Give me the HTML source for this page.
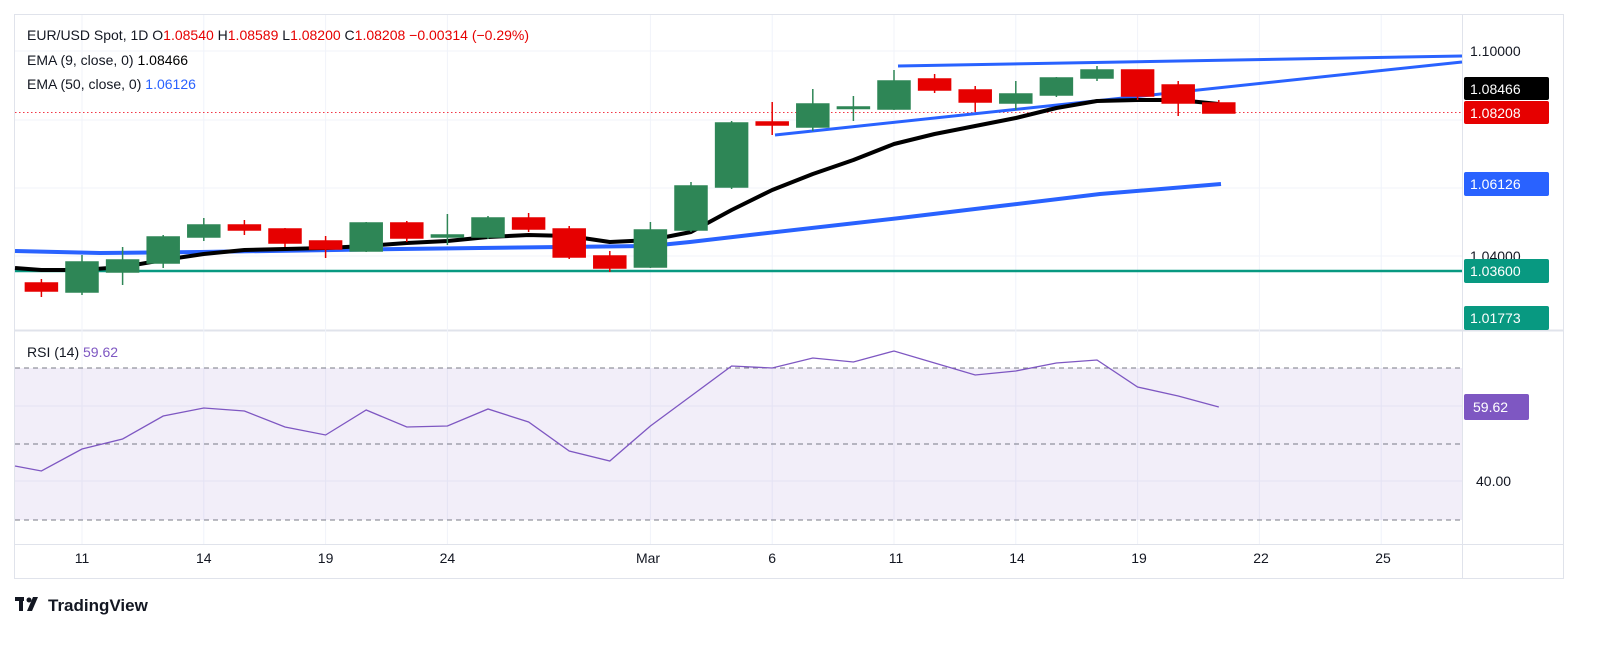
<!DOCTYPE html>
<html><head><meta charset="utf-8"><style>
body{margin:0;background:#fff;width:1602px;height:644px;overflow:hidden;font-family:"Liberation Sans",sans-serif}
svg text{font-family:"Liberation Sans",sans-serif}
</style></head><body>
<svg width="1602" height="644" xmlns="http://www.w3.org/2000/svg">
<rect x="14.5" y="14.5" width="1549" height="564" fill="none" stroke="#e0e3eb"/>
<line x1="15" y1="330.5" x2="1563" y2="330.5" stroke="#e0e3eb" stroke-width="2"/>
<line x1="1462.5" y1="15" x2="1462.5" y2="578" stroke="#e0e3eb"/>
<line x1="15" y1="544.5" x2="1563" y2="544.5" stroke="#e0e3eb"/>
<g stroke="#f0f3fa">
<line x1="82" y1="15" x2="82" y2="544"/><line x1="203.8" y1="15" x2="203.8" y2="544"/><line x1="325.6" y1="15" x2="325.6" y2="544"/><line x1="447.4" y1="15" x2="447.4" y2="544"/><line x1="650.4" y1="15" x2="650.4" y2="544"/><line x1="772.2" y1="15" x2="772.2" y2="544"/><line x1="894" y1="15" x2="894" y2="544"/><line x1="1015.8" y1="15" x2="1015.8" y2="544"/><line x1="1137.6" y1="15" x2="1137.6" y2="544"/><line x1="1259.4" y1="15" x2="1259.4" y2="544"/><line x1="1381.2" y1="15" x2="1381.2" y2="544"/>
<line x1="15" y1="51" x2="1462" y2="51"/><line x1="15" y1="120" x2="1462" y2="120"/><line x1="15" y1="188" x2="1462" y2="188"/><line x1="15" y1="256" x2="1462" y2="256"/>
<line x1="15" y1="406" x2="1462" y2="406"/><line x1="15" y1="481" x2="1462" y2="481"/>
</g>
<rect x="15" y="368" width="1447" height="152" fill="#7e57c2" fill-opacity="0.1"/>
<g stroke="#787b86" stroke-dasharray="5,4" stroke-width="1">
<line x1="15" y1="368" x2="1462" y2="368"/><line x1="15" y1="444" x2="1462" y2="444"/><line x1="15" y1="520" x2="1462" y2="520"/>
</g>
<polyline fill="none" stroke="#7e57c2" stroke-width="1.3" points="15,466 41.4,471 82,449 122.6,439 163.2,416 203.8,408 244.4,411 285,427 325.6,435 366.2,410 406.8,427 447.4,426 488,409 528.6,422 569.2,451 609.8,461 650.4,426 691,396 731.6,366 772.2,368 812.8,358 853.4,362 894,351 934.6,363 975.2,375 1015.8,371 1056.4,363 1097,360 1137.6,387 1178.2,396 1218.8,407"/>
<line x1="15" y1="271" x2="1462" y2="271" stroke="#089981" stroke-width="2.5"/>
<line x1="15" y1="112.5" x2="1462" y2="112.5" stroke="#f23645" stroke-dasharray="1.5,2.5"/>
<polyline fill="none" stroke="#2962ff" stroke-width="4" stroke-linejoin="round" points="15,251 100,253 200,252 400,249 560,247 650,246 690,242 750,235 900,218 1000,206 1100,194 1221,184"/>
<line x1="898" y1="66" x2="1462" y2="56" stroke="#2962ff" stroke-width="3"/>
<line x1="775" y1="135" x2="1462" y2="62" stroke="#2962ff" stroke-width="3"/>
<polyline fill="none" stroke="#000" stroke-width="4" stroke-linejoin="round" points="15,268 41.4,270 82,270 122.6,267 163.2,260 203.8,254 244.4,250 285,249 325.6,248 366.2,246 406.8,243 447.4,241 488,237 528.6,235 569.2,236 609.8,242 650.4,240 691,232 731.6,210 772.2,190 812.8,174 853.4,160 894,144 934.6,134 975.2,126 1015.8,118 1056.4,108 1097,101 1137.6,100 1178.2,100 1218.8,104"/>
<g stroke-width="1.5">
<g stroke="#e60000" fill="#e60000">
<line x1="41.4" y1="279" x2="41.4" y2="297"/><rect x="25.4" y="283" width="32" height="8"/>
<line x1="244.4" y1="220" x2="244.4" y2="235"/><rect x="228.4" y="225" width="32" height="5"/>
<line x1="285" y1="228" x2="285" y2="247"/><rect x="269" y="229" width="32" height="14"/>
<line x1="325.6" y1="236" x2="325.6" y2="258"/><rect x="309.6" y="241" width="32" height="8"/>
<line x1="406.8" y1="221" x2="406.8" y2="242"/><rect x="390.8" y="223" width="32" height="15"/>
<line x1="528.6" y1="213" x2="528.6" y2="232"/><rect x="512.6" y="218" width="32" height="11"/>
<line x1="569.2" y1="226" x2="569.2" y2="259"/><rect x="553.2" y="229" width="32" height="28"/>
<line x1="609.8" y1="251" x2="609.8" y2="272"/><rect x="593.8" y="256" width="32" height="12"/>
<line x1="772.2" y1="102" x2="772.2" y2="135"/><rect x="756.2" y="122" width="32" height="3"/>
<line x1="934.6" y1="74" x2="934.6" y2="93"/><rect x="918.6" y="79" width="32" height="11"/>
<line x1="975.2" y1="86" x2="975.2" y2="112"/><rect x="959.2" y="90" width="32" height="12"/>
<line x1="1137.6" y1="70" x2="1137.6" y2="100"/><rect x="1121.6" y="70" width="32" height="26"/>
<line x1="1178.2" y1="81" x2="1178.2" y2="116"/><rect x="1162.2" y="85" width="32" height="18"/>
<line x1="1218.8" y1="100" x2="1218.8" y2="113"/><rect x="1202.8" y="103" width="32" height="10"/>
</g>
<g stroke="#2e8656" fill="#2e8656">
<line x1="82" y1="255" x2="82" y2="295"/><rect x="66" y="262" width="32" height="30"/>
<line x1="122.6" y1="247" x2="122.6" y2="285"/><rect x="106.6" y="260" width="32" height="12"/>
<line x1="163.2" y1="235" x2="163.2" y2="268"/><rect x="147.2" y="237" width="32" height="26"/>
<line x1="203.8" y1="218" x2="203.8" y2="241"/><rect x="187.8" y="225" width="32" height="12"/>
<line x1="366.2" y1="222" x2="366.2" y2="252"/><rect x="350.2" y="223" width="32" height="28"/>
<line x1="447.4" y1="214" x2="447.4" y2="245"/><rect x="431.4" y="235" width="32" height="2"/>
<line x1="488" y1="216" x2="488" y2="239"/><rect x="472" y="218" width="32" height="19"/>
<line x1="650.4" y1="222" x2="650.4" y2="268"/><rect x="634.4" y="230" width="32" height="37"/>
<line x1="691" y1="182" x2="691" y2="232"/><rect x="675" y="186" width="32" height="44"/>
<line x1="731.6" y1="121" x2="731.6" y2="189"/><rect x="715.6" y="123" width="32" height="64"/>
<line x1="812.8" y1="89" x2="812.8" y2="131"/><rect x="796.8" y="104" width="32" height="23"/>
<line x1="853.4" y1="96" x2="853.4" y2="121"/><rect x="837.4" y="107" width="32" height="1.5"/>
<line x1="894" y1="70" x2="894" y2="110"/><rect x="878" y="81" width="32" height="28"/>
<line x1="1015.8" y1="81" x2="1015.8" y2="110"/><rect x="999.8" y="94" width="32" height="9"/>
<line x1="1056.4" y1="77" x2="1056.4" y2="97"/><rect x="1040.4" y="78" width="32" height="17"/>
<line x1="1097" y1="66" x2="1097" y2="81"/><rect x="1081" y="70" width="32" height="8"/>
</g>
</g>
<g font-size="14" fill="#131722">
<text x="1470" y="56">1.10000</text>
<text x="1470" y="261">1.04000</text>
<text x="1476" y="486">40.00</text>
</g>
<rect x="1464" y="77" width="85" height="23" rx="2" fill="#000"/><text x="1470" y="94" font-size="14" fill="#fff">1.08466</text>
<rect x="1464" y="101" width="85" height="23" rx="2" fill="#e60000"/><text x="1470" y="118" font-size="14" fill="#fff">1.08208</text>
<rect x="1464" y="172" width="85" height="24" rx="2" fill="#2962ff"/><text x="1470" y="189" font-size="14" fill="#fff">1.06126</text>
<rect x="1464" y="259" width="85" height="24" rx="2" fill="#089981"/><text x="1470" y="276" font-size="14" fill="#fff">1.03600</text>
<rect x="1464" y="306" width="85" height="24" rx="2" fill="#089981"/><text x="1470" y="323" font-size="14" fill="#fff">1.01773</text>
<rect x="1464" y="394" width="65" height="26" rx="2" fill="#7e57c2"/><text x="1473" y="412" font-size="14" fill="#fff">59.62</text>
<g font-size="14" fill="#131722" text-anchor="middle">
<text x="82" y="563">11</text><text x="203.8" y="563">14</text><text x="325.6" y="563">19</text><text x="447.4" y="563">24</text><text x="648" y="563">Mar</text><text x="772.2" y="563">6</text><text x="896" y="563">11</text><text x="1017" y="563">14</text><text x="1139" y="563">19</text><text x="1261" y="563">22</text><text x="1383" y="563">25</text>
</g>
<g font-size="14" xml:space="preserve">
<text x="27" y="40" fill="#131722">EUR/USD Spot, 1D  O<tspan fill="#e60000">1.08540</tspan>  H<tspan fill="#e60000">1.08589</tspan>  L<tspan fill="#e60000">1.08200</tspan>  C<tspan fill="#e60000">1.08208  −0.00314 (−0.29%)</tspan></text>
<text x="27" y="65" fill="#131722">EMA (9, close, 0)  <tspan fill="#000">1.08466</tspan></text>
<text x="27" y="89" fill="#131722">EMA (50, close, 0)  <tspan fill="#2962ff">1.06126</tspan></text>
<text x="27" y="357" fill="#131722">RSI (14)  <tspan fill="#7e57c2">59.62</tspan></text>
</g>
<g fill="#131722">
<rect x="15" y="597" width="9" height="4"/><rect x="19" y="597" width="4" height="14"/>
<circle cx="29" cy="600" r="2.5"/><polygon points="33,597 38,597 32,611 27,611"/>
<text x="48" y="611" font-size="17" font-weight="bold">TradingView</text>
</g>
</svg>
</body></html>
